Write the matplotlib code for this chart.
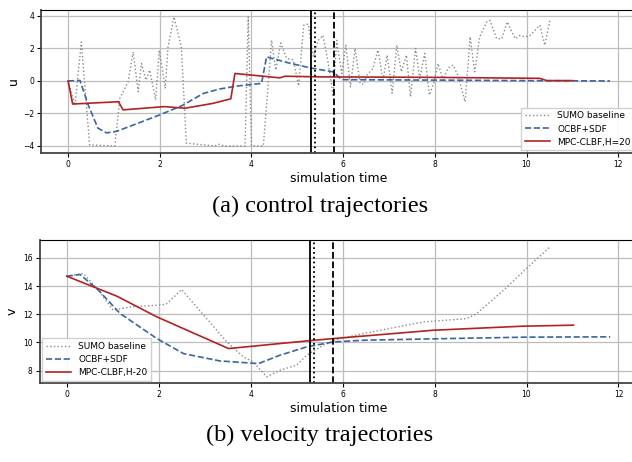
import matplotlib
matplotlib.use('Agg')
import matplotlib.pyplot as plt

# ---- control trajectories (u) ----
t_sumo_u = [0, 0.15, 0.29, 0.47, 1.02, 1.13, 1.31, 1.42, 1.53, 1.60, 1.70, 1.78, 1.91,
            1.99, 2.12, 2.18, 2.31, 2.47, 2.58, 3.2, 3.3, 3.4, 3.86, 3.93, 4.0, 4.26,
            4.44, 4.53, 4.64, 4.77, 4.91, 5.03, 5.14, 5.24, 5.35, 5.46, 5.56, 5.67,
            5.75, 5.78, 5.86, 5.97, 6.06, 6.16, 6.26, 6.37, 6.45, 6.52, 6.65, 6.76,
            6.87, 6.96, 7.07, 7.17, 7.27, 7.38, 7.47, 7.58, 7.67, 7.78, 7.88, 7.97,
            8.07, 8.18, 8.29, 8.40, 8.51, 8.66, 8.73, 8.77, 8.87, 8.98, 9.13, 9.2,
            9.35, 9.46, 9.58, 9.75, 9.85, 9.97, 10.08, 10.29, 10.4, 10.51]
u_sumo = [0, -1.5, 2.4, -3.94, -4.0, -1.07, -0.05, 1.79, -0.66, 1.08, 0.05, 0.67, -1.17,
          1.89, -0.46, 2.1, 3.94, 2.1, -3.83, -4.0, -3.9, -4.0, -4.0, 3.94, -4.0, -4.0,
          2.5, 0.67, 2.34, 1.38, 1.3, -0.3, 3.43, 3.5, 1.5, 2.5, 2.81, 1.18,
          -0.25, -0.97, 2.5, 0.46, 2.2, -0.36, 2.0, -0.15, -0.2, 0.36, 0.77, 1.9,
          0.05, 1.59, -0.76, 2.2, 0.56, 1.59, -0.97, 2.0, 0.16, 1.69, -0.87, -0.2,
          1.08, 0.05, 0.8, 0.97, 0.3, -1.28, 1.18, 2.71, 0.56, 2.71, 3.63, 3.73,
          2.6, 2.6, 3.63, 2.6, 2.8, 2.71, 2.8, 3.43, 2.2, 3.73]

t_ocbf_u = [0, 0.26, 0.44, 0.65, 0.84, 1.06, 1.5, 2.0, 2.5, 2.95, 3.3, 3.67, 4.22,
            4.33, 4.8, 5.27, 5.78, 5.97, 8.0, 10.0, 11.82]
u_ocbf = [0, 0.03, -1.48, -2.9, -3.2, -3.1, -2.63, -2.09, -1.5, -0.77, -0.5, -0.32, -0.15,
          1.48, 1.12, 0.81, 0.56, 0.08, 0.05, 0.02, 0.0]

t_mpc_u = [0, 0.1, 1.1, 1.2, 2.1, 2.55, 3.16, 3.55, 3.64, 4.62, 4.73, 5.5, 8.0,
           10.29, 10.44, 11.0]
u_mpc = [0, -1.42, -1.28, -1.78, -1.58, -1.68, -1.38, -1.1, 0.46, 0.19, 0.29, 0.25, 0.22,
         0.16, 0.02, 0.02]

# ---- velocity trajectories (v) ----
t_sumo_v = [0, 0.36, 0.69, 1.01, 1.38, 1.96, 2.16, 2.5, 3.48, 3.84, 4.06, 4.35, 4.64,
            5.0, 5.22, 5.58, 5.94, 6.74, 7.76, 8.7, 8.92, 9.5, 10.0, 10.51]
v_sumo = [14.7, 14.89, 13.7, 12.28, 12.52, 12.64, 12.7, 13.75, 10.03, 8.97, 8.6, 7.55, 8.02,
          8.38, 9.09, 9.8, 10.27, 10.81, 11.45, 11.69, 12.05, 13.7, 15.25, 16.78]

t_ocbf_v = [0, 0.29, 0.69, 1.16, 1.96, 2.54, 3.33, 4.17, 4.64, 5.22, 5.8, 6.45, 7.97,
            10.0, 11.82]
v_ocbf = [14.7, 14.82, 13.7, 12.05, 10.27, 9.2, 8.68, 8.49, 9.09, 9.68, 10.03, 10.15, 10.25,
          10.37, 10.39]

t_mpc_v = [0, 1.09, 1.96, 3.52, 5.22, 5.73, 7.97, 9.93, 11.02]
v_mpc = [14.7, 13.28, 11.81, 9.56, 10.1, 10.25, 10.86, 11.15, 11.22]

vlines = [5.30, 5.38, 5.80]
vstyles = ['-', ':', '--']

grey = '#8a8a8a'
blue = '#3a65a0'
red = '#b22222'

fig = plt.figure(figsize=(6.32, 4.62), dpi=100)
ax1 = fig.add_axes([0.0649, 0.669, 0.9430, 0.3095])
ax2 = fig.add_axes([0.0627, 0.170, 0.9457, 0.3102])


def style_axes(ax):
    ax.grid(True, color='#bdbdbd', linewidth=0.9)
    ax.set_axisbelow(True)
    ax.tick_params(labelsize=5.5, length=3, pad=2)
    for side in ['left', 'bottom']:
        ax.spines[side].set_color('#444444')
        ax.spines[side].set_linewidth(1.3)
    for x, ls in zip(vlines, vstyles):
        ax.axvline(x, color='black', linestyle=ls, linewidth=1.3)


ax1.plot(t_sumo_u, u_sumo, ':', color=grey, linewidth=1.0, label='SUMO baseline')
ax1.plot(t_ocbf_u, u_ocbf, '--', color=blue, linewidth=1.2, label='OCBF+SDF')
ax1.plot(t_mpc_u, u_mpc, '-', color=red, linewidth=1.2, label='MPC-CLBF,H=20')
style_axes(ax1)
ax1.set_xlim(-0.59, 12.41)
ax1.set_ylim(-4.43, 4.37)
ax1.set_yticks([-4, -2, 0, 2, 4])
ax1.set_xticks([0, 2, 4, 6, 8, 10, 12])
ax1.set_xlabel('simulation time', fontsize=9)
ax1.xaxis.set_label_coords(0.5, -0.13)
ax1.set_ylabel('u', fontsize=9)
ax1.yaxis.set_label_coords(-0.035, 0.5)
ax1.legend(loc='lower right', fontsize=6.5, borderaxespad=0.3, handlelength=2.8,
           labelspacing=0.45, fancybox=False, framealpha=0.9)

ax2.plot(t_sumo_v, v_sumo, ':', color=grey, linewidth=1.0, label='SUMO baseline')
ax2.plot(t_ocbf_v, v_ocbf, '--', color=blue, linewidth=1.2, label='OCBF+SDF')
ax2.plot(t_mpc_v, v_mpc, '-', color=red, linewidth=1.2, label='MPC-CLBF,H-20')
style_axes(ax2)
ax2.set_xlim(-0.59, 12.41)
ax2.set_ylim(7.08, 17.26)
ax2.set_yticks([8, 10, 12, 14, 16])
ax2.set_xticks([0, 2, 4, 6, 8, 10, 12])
ax2.set_xlabel('simulation time', fontsize=9)
ax2.xaxis.set_label_coords(0.5, -0.13)
ax2.set_ylabel('v', fontsize=9)
ax2.yaxis.set_label_coords(-0.035, 0.5)
ax2.legend(loc='lower left', fontsize=6.5, borderaxespad=0.3, handlelength=2.8,
           labelspacing=0.45, fancybox=False, framealpha=0.9)

fig.text(0.506, 1 - 206 / 462, '(a) control trajectories', family='Liberation Serif',
         fontsize=17.5, ha='center', va='center')
fig.text(0.506, 1 - 435 / 462, '(b) velocity trajectories', family='Liberation Serif',
         fontsize=17.5, ha='center', va='center')

fig.savefig('out.png', dpi=100)
